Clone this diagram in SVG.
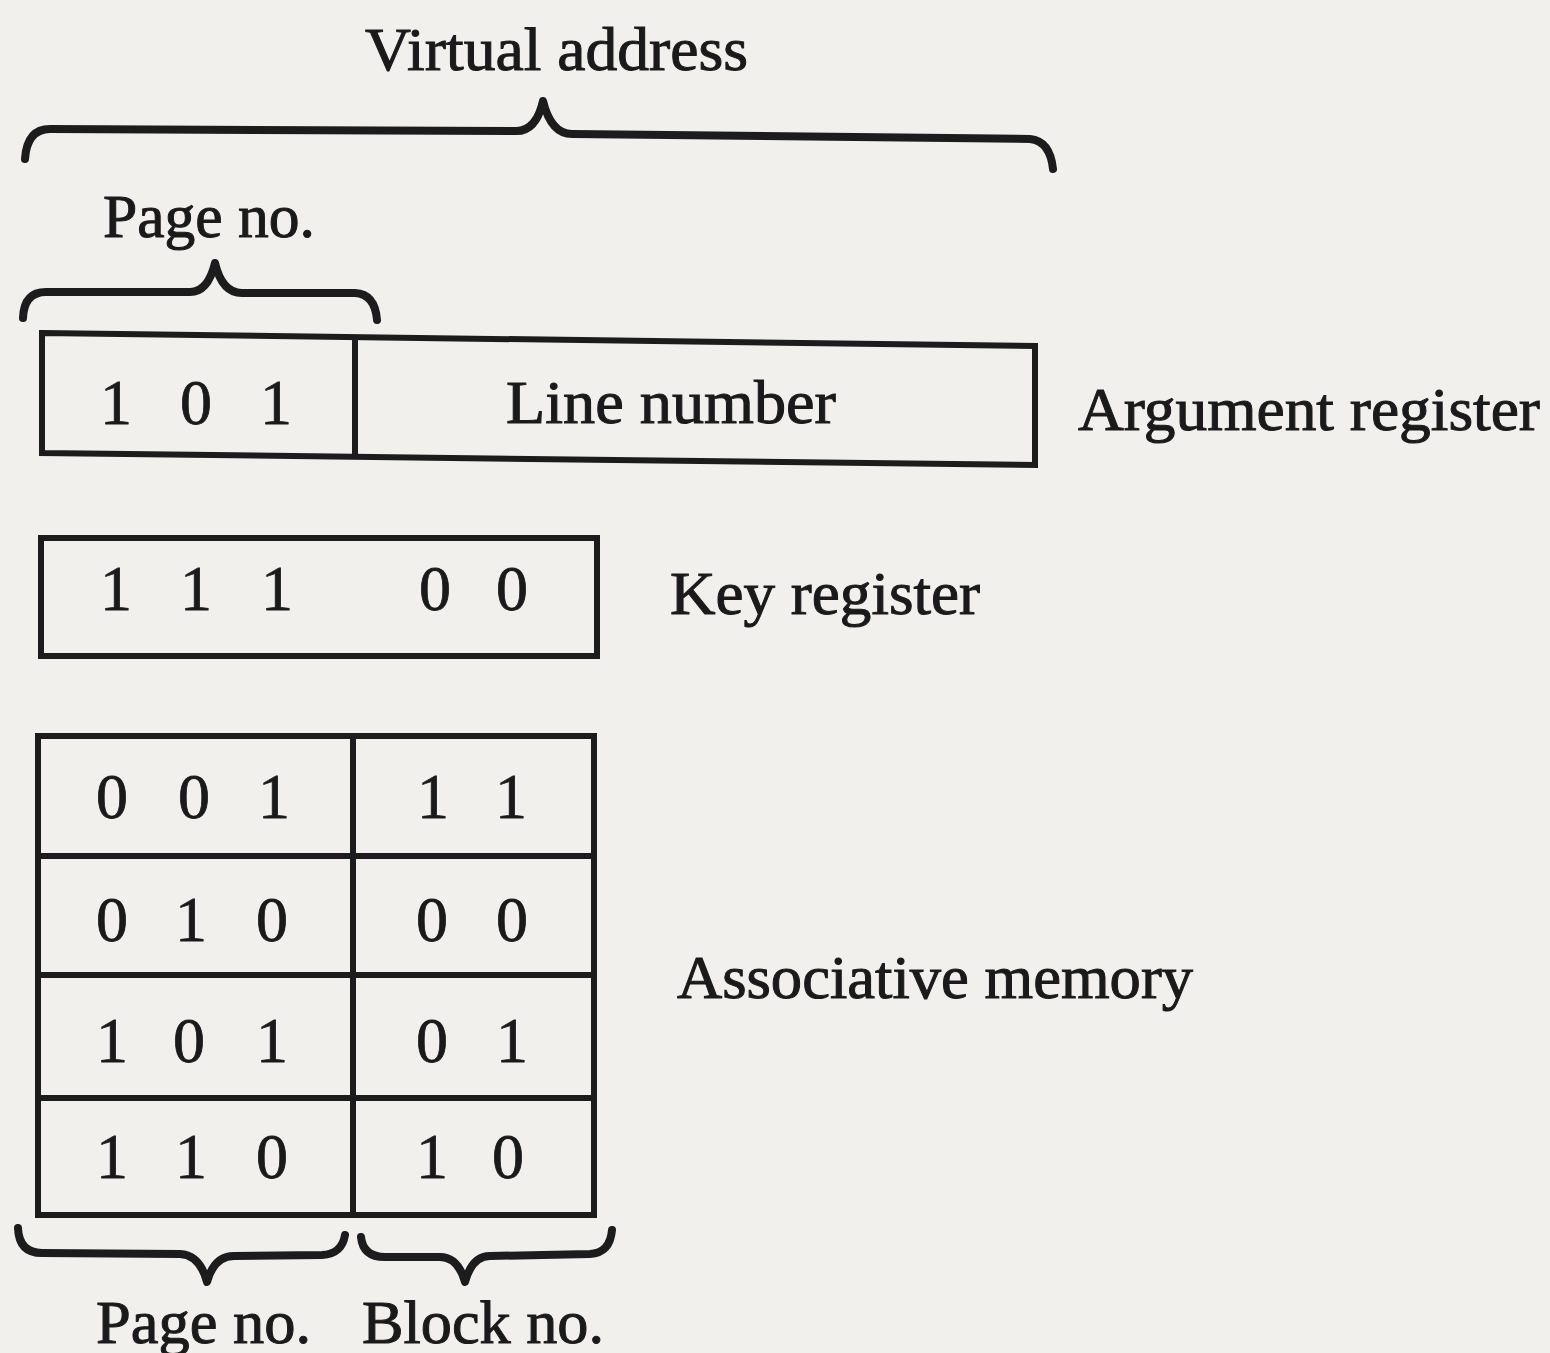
<svg xmlns="http://www.w3.org/2000/svg" width="1550" height="1353" viewBox="0 0 1550 1353">
<style>
.bg{fill:#f1f0ed}
.box{fill:none;stroke:#1c1c1c;stroke-width:6;stroke-linejoin:miter}
.brace{fill:none;stroke:#1c1c1c;stroke-width:8;stroke-linecap:round;stroke-linejoin:round}
.lbl{font-family:"Liberation Serif","Times New Roman",serif;font-size:61px;fill:#1a1a1a;stroke:#1a1a1a;stroke-width:1}
.dig{font-family:"Liberation Serif","Times New Roman",serif;font-size:64px;fill:#1a1a1a;stroke:#1a1a1a;stroke-width:0.8;text-anchor:middle}
</style>
<rect class="bg" x="0" y="0" width="1550" height="1353"/>

<g id="braces">
  <path class="brace" d="M25,159 Q27,129 50,129 L515,131 Q536,132 543,101 Q551,134 572,134 L1030,139 Q1050,141 1053,169"/>
  <path class="brace" d="M23,318 Q24,292 46,292 L190,292 Q208,292 215,263 Q222,293 242,293 L355,293 Q375,294 377,320"/>
  <path class="brace" d="M18,1228 Q19,1253 42,1253 L180,1254 Q200,1255 207,1282 Q214,1256 234,1256 L322,1255 Q342,1254 345,1235"/>
  <path class="brace" d="M361,1237 Q363,1257 385,1257 L440,1257 Q458,1257 465,1282 Q472,1256 490,1256 L590,1254 Q610,1253 612,1230"/>
</g>

<g id="virtual-address">
  <text class="lbl" x="365" y="70" textLength="383" lengthAdjust="spacingAndGlyphs">Virtual address</text>
</g>
<g id="page-no-top">
  <text class="lbl" x="103" y="237" textLength="212" lengthAdjust="spacingAndGlyphs">Page no.</text>
</g>

<g id="argument-register">
  <path class="box" d="M42,333 L1035,346 L1035,465 L42,453 Z"/>
  <line class="box" x1="355" y1="336" x2="355" y2="457"/>
  <text class="dig" x="116 156 196 236 276" y="424">1 0 1</text>
  <text class="lbl" x="506" y="423" textLength="330" lengthAdjust="spacingAndGlyphs">Line number</text>
  <text class="lbl" x="1078" y="430" textLength="462" lengthAdjust="spacingAndGlyphs">Argument register</text>
</g>

<g id="key-register">
  <rect class="box" x="41" y="538" width="556" height="118"/>
  <text class="dig" x="116 156 196 236 277" y="610">1 1 1</text>
  <text class="dig" x="435 472 512" y="610">0 0</text>
  <text class="lbl" x="670" y="614" textLength="310" lengthAdjust="spacingAndGlyphs">Key register</text>
</g>

<g id="associative-memory">
  <rect class="box" x="38" y="736" width="556" height="479"/>
  <line class="box" x1="353" y1="736" x2="353" y2="1215"/>
  <line class="box" x1="38" y1="856" x2="594" y2="856"/>
  <line class="box" x1="38" y1="975" x2="594" y2="975"/>
  <line class="box" x1="38" y1="1098" x2="594" y2="1098"/>
  <text class="dig" x="112 153 194 234 274" y="818">0 0 1</text>
  <text class="dig" x="433 472 511" y="818">1 1</text>
  <text class="dig" x="112 151 191 231 272" y="941">0 1 0</text>
  <text class="dig" x="432 472 512" y="941">0 0</text>
  <text class="dig" x="112 150 189 230 272" y="1062">1 0 1</text>
  <text class="dig" x="432 472 512" y="1062">0 1</text>
  <text class="dig" x="112 151 191 231 272" y="1178">1 1 0</text>
  <text class="dig" x="432 470 508" y="1178">1 0</text>
  <text class="lbl" x="677" y="998" textLength="516" lengthAdjust="spacingAndGlyphs">Associative memory</text>
</g>

<g id="bottom-labels">
  <text class="lbl" x="96" y="1343" textLength="215" lengthAdjust="spacingAndGlyphs">Page no.</text>
  <text class="lbl" x="362" y="1343" textLength="242" lengthAdjust="spacingAndGlyphs">Block no.</text>
</g>
</svg>
